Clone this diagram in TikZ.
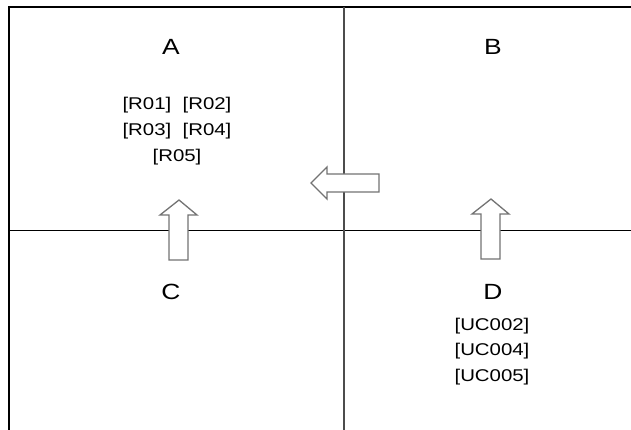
\documentclass[tikz,border=0pt]{standalone}
\usepackage{fontspec}
\setmainfont[FakeStretch=1.2]{Liberation Sans}
\usetikzlibrary{positioning}

\begin{document}
\begin{tikzpicture}[x=1pt, y=-1pt, line join=miter,
		quad/.style={font=\fontsize{22}{24}\selectfont},
		item/.style={font=\fontsize{17}{19}\selectfont, inner sep=0pt},
		blockarrow/.style={draw=black!55, line width=1.3pt, fill=white}]
		
		\useasboundingbox (0,0) rectangle (631,430);
		
		% frame and dividing lines
		\draw[line width=2.6pt] (9,430) -- (9,7) -- (631,7);
		\draw[line width=0.9pt] (9,230) -- (631,230);
		\draw[line width=1.2pt, black!70] (344,7) -- (344,430);
		
		% quadrant names
		\node[quad] (qA) at (171,47) {A};
		\node[quad] (qB) at (493,47) {B};
		\node[quad] (qC) at (171,292) {C};
		\node[quad] (qD) at (493,292) {D};
		
		% items in A
		\node[item] (r12) at (177,105) {[R01]\ \ [R02]};
		\node[item] (r34) at (177,131) {[R03]\ \ [R04]};
		\node[item] (r5) at (177,157) {[R05]};
		
		% items in D
		\node[item] (uc2) at (492,326) {[UC002]};
		\node[item] (uc4) at (492,351) {[UC004]};
		\node[item] (uc5) at (492,377) {[UC005]};
		
		% block arrows
		\coordinate (tipBA) at (311,183);
		\draw[blockarrow] (tipBA) -- ++(16,-16) -- ++(0,7) -- ++(52,0) -- ++(0,18)
			-- ++(-52,0) -- ++(0,7) -- cycle;
		
		\coordinate (tipCA) at (179,200);
		\draw[blockarrow] (tipCA) -- ++(18,15) -- ++(-9,0) -- ++(0,45) -- ++(-19,0)
			-- ++(0,-45) -- ++(-9,0) -- cycle;
		
		\coordinate (tipDB) at (491,199);
		\draw[blockarrow] (tipDB) -- ++(18,15) -- ++(-9,0) -- ++(0,45) -- ++(-19,0)
			-- ++(0,-45) -- ++(-9,0) -- cycle;
		
	\end{tikzpicture}
\end{document}
